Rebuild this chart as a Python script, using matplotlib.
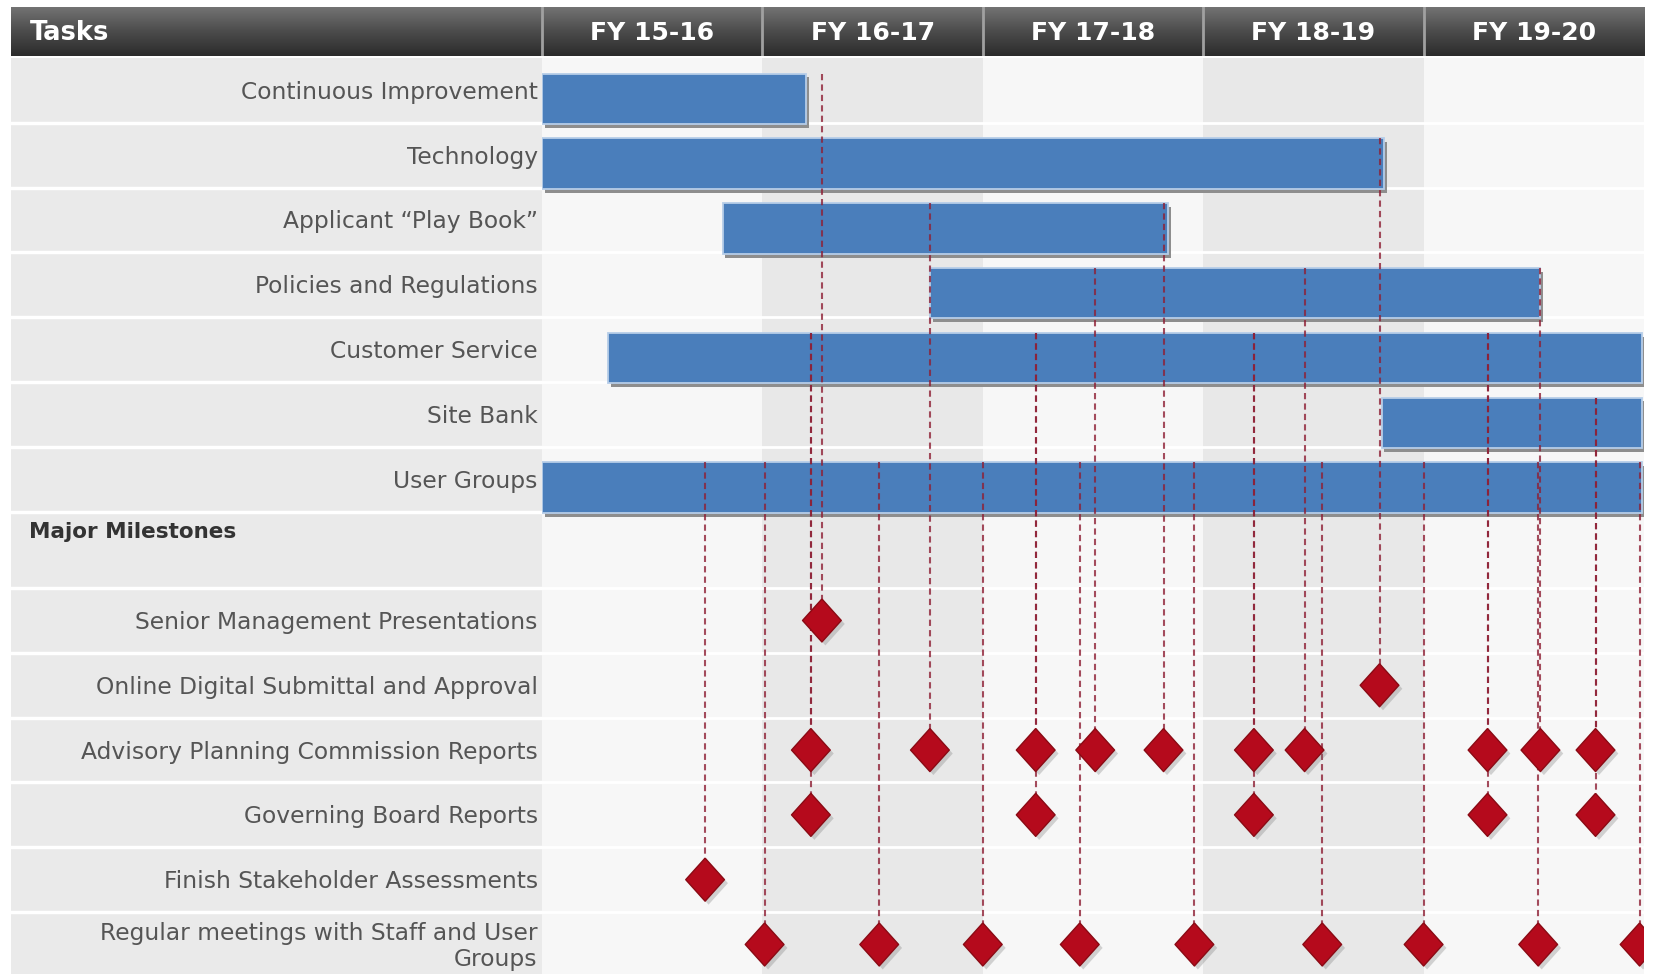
import matplotlib
matplotlib.use('Agg')
import matplotlib.pyplot as plt
import matplotlib.patheffects as pe
from matplotlib.colors import LinearSegmentedColormap
from matplotlib.transforms import blended_transform_factory
import numpy as np

years = ['FY 15-16', 'FY 16-17', 'FY 17-18', 'FY 18-19', 'FY 19-20']

# task bars, in fiscal years counted from the start of FY 15-16
tasks = ['Continuous Improvement', 'Technology', 'Applicant \u201cPlay Book\u201d',
         'Policies and Regulations', 'Customer Service', 'Site Bank', 'User Groups']
task_start = [0.0, 0.0, 0.82, 1.76, 0.30, 3.81, 0.0]
task_end = [1.20, 3.82, 2.84, 4.53, 4.99, 4.99, 4.99]

milestones = ['Senior Management Presentations', 'Online Digital Submittal and Approval',
              'Advisory Planning Commission Reports', 'Governing Board Reports',
              'Finish Stakeholder Assessments', 'Regular meetings with Staff and User\nGroups']

# milestone dates and the task each dashed link hangs from
senior_dates = [1.27]
senior_from = [0]
online_dates = [3.80]
online_from = [1]
advisory_dates = [1.22, 1.76, 2.24, 2.51, 2.82, 3.23, 3.46, 4.29, 4.53, 4.78]
advisory_from = [4, 2, 4, 3, 2, 4, 3, 4, 3, 5]
governing_dates = [1.22, 2.24, 3.23, 4.29, 4.78]
governing_from = [4, 4, 4, 4, 5]
finish_dates = [0.74]
finish_from = [6]
regular_dates = [1.01, 1.53, 2.00, 2.44, 2.96, 3.54, 4.00, 4.52, 4.98]
regular_from = [6, 6, 6, 6, 6, 6, 6, 6, 6]

ms_dates = [senior_dates, online_dates, advisory_dates, governing_dates, finish_dates, regular_dates]
ms_from = [senior_from, online_from, advisory_from, governing_from, finish_from, regular_from]

# row layout: 7 tasks, the milestone heading (a bit taller), 6 milestones
heights = [1.0] * 7 + [1.18] + [1.0] * 6
tops = np.concatenate([[0], np.cumsum(heights)])
centers = (tops[:-1] + tops[1:]) / 2
total = tops[-1]

W, H = 1660, 974
fig = plt.figure(figsize=(W / 100, H / 100), dpi=100)
fig.patch.set_facecolor('white')

top_px, row_px = 58, 64.8
ax_h = total * row_px
ax = fig.add_axes([542 / W, 1 - (top_px + ax_h) / H, (1644 - 542) / W, ax_h / H])
lab = fig.add_axes([10.6 / W, 1 - (top_px + ax_h) / H, (542 - 10.6) / W, ax_h / H])
hdr = fig.add_axes([10.6 / W, 1 - 56 / H, (1644 - 10.6) / W, 49 / H])

# chart background: alternating year columns and row separators
ax.set_xlim(0, 5)
ax.set_ylim(total, 0)
ax.axis('off')
for i in range(len(years)):
    ax.axvspan(i, i + 1, color='#e8e8e8' if i % 2 else '#f7f7f7', zorder=0, lw=0)
for t in tops[1:-1]:
    ax.axhline(t, color='white', lw=2, zorder=0.5)

# label column
lab.set_xlim(0, 1)
lab.set_ylim(total, 0)
lab.axis('off')
lab.axvspan(0, 1, color='#eaeaea', zorder=0, lw=0)
for t in tops[1:-1]:
    lab.axhline(t, color='white', lw=2.5, zorder=0.5)
for i, name in enumerate(tasks):
    lab.text(0.992, centers[i] + 0.03, name, ha='right', va='center', fontsize=16.8, color='#555555')
lab.text(0.034, tops[7] + 0.31, 'Major Milestones', ha='left', va='center',
         fontsize=15.5, fontweight='bold', color='#333333')
for j, name in enumerate(milestones):
    lab.text(0.992, centers[8 + j] + 0.03, name, ha='right', va='center', fontsize=16.8,
             color='#555555', linespacing=1.2, multialignment='right')

# task bars
bar_h = 0.78
bar_c = [centers[i] + 0.13 for i in range(len(tasks))]
for i in range(len(tasks)):
    w = task_end[i] - task_start[i]
    ax.barh(bar_c[i] + 0.06, w, left=task_start[i] + 0.012, height=bar_h,
            color='#8e8e8e', zorder=2, lw=0)
    ax.barh(bar_c[i], w, left=task_start[i], height=bar_h, color='#4a7ebb',
            edgecolor='#b6cde8', lw=1.3, zorder=3)

# milestone links and diamonds
diamond = [(0, 1), (0.9, 0), (0, -1), (-0.9, 0), (0, 1)]
for j in range(len(milestones)):
    y = centers[8 + j]
    for x, k in zip(ms_dates[j], ms_from[j]):
        ax.plot([x, x], [bar_c[k] - bar_h / 2, y], ls=(0, (3, 2)), color='#8e2035',
                lw=1.5, alpha=0.8, zorder=4)
    ax.plot(ms_dates[j], [y] * len(ms_dates[j]), ls='none', marker=diamond, ms=31,
            mfc='#b50a1c', mec='#8a0a14', mew=1, zorder=5,
            path_effects=[pe.SimplePatchShadow(offset=(2.5, -2.5), shadow_rgbFace='#777777', alpha=0.3),
                          pe.Normal()])

# header band
cmap = LinearSegmentedColormap.from_list('hdr', ['#747474', '#4c4c4c', '#2c2c2c'])
hdr.imshow(np.linspace(0, 1, 60).reshape(-1, 1), aspect='auto', cmap=cmap,
           extent=[0, 1, 0, 1], zorder=0)
hdr.set_xlim(0, 1)
hdr.set_ylim(0, 1)
hdr.axis('off')
bt = blended_transform_factory(ax.transData, hdr.transAxes)
for i in range(len(years)):
    hdr.plot([i, i], [0, 1], transform=bt, color='#a0a0a0', lw=2, zorder=1)
    hdr.text(i + 0.5, 0.47, years[i], transform=bt, ha='center', va='center',
             fontsize=18, fontweight='bold', color='white', zorder=2)
hdr.text(0.0119, 0.47, 'Tasks', ha='left', va='center', fontsize=18.5,
         fontweight='bold', color='white', zorder=2)
hdr.set_xlim(0, 1)
hdr.set_ylim(0, 1)

fig.savefig('out.png', dpi=100, facecolor='white')
